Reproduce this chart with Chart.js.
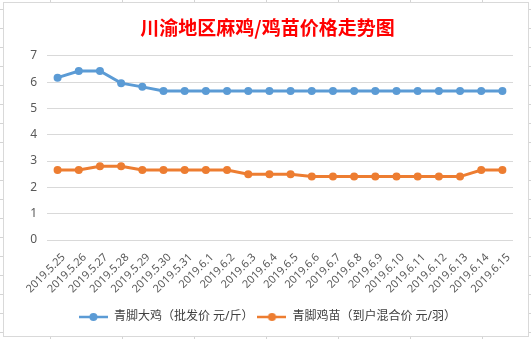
<!DOCTYPE html>
<html>
<head>
<meta charset="utf-8">
<script src="https://cdn.jsdelivr.net/npm/chart.js@4.4.1/dist/chart.umd.min.js"></script>
<style>
  html, body { margin: 0; padding: 0; }
  body {
    width: 531px; height: 339px; position: relative; overflow: hidden;
    background-color: #fff;
    background-image: linear-gradient(to right, #d4d4d4 1px, transparent 1px),
                      linear-gradient(to bottom, #d4d4d4 1px, transparent 1px);
    background-size: 72px 19px;
    background-position: 50px 9px;
  }
  #frame {
    position: absolute; left: 3px; top: 2px; width: 526px; height: 335px;
    box-sizing: border-box; border: 1px solid #d9d9d9; background: #fff;
  }
  #wrap { position: absolute; left: 0; top: 0; width: 531px; height: 339px; }
</style>
</head>
<body>
<div id="frame"></div>
<div id="wrap"><canvas id="myChart"></canvas></div>
<script>
const labels = [
  "2019.5.25", "2019.5.26", "2019.5.27", "2019.5.28", "2019.5.29", "2019.5.30", "2019.5.31",
  "2019.6.1", "2019.6.2", "2019.6.3", "2019.6.4", "2019.6.5", "2019.6.6", "2019.6.7",
  "2019.6.8", "2019.6.9", "2019.6.10", "2019.6.11", "2019.6.12", "2019.6.13", "2019.6.14", "2019.6.15"
];
const bigChicken = [6.17, 6.42, 6.42, 5.96, 5.82, 5.66, 5.66, 5.66, 5.66, 5.66, 5.66,
  5.66, 5.66, 5.66, 5.66, 5.66, 5.66, 5.66, 5.66, 5.66, 5.66, 5.66];
const chicks = [2.66, 2.66, 2.8, 2.8, 2.66, 2.66, 2.66, 2.66, 2.66, 2.5, 2.5,
  2.5, 2.41, 2.41, 2.41, 2.41, 2.41, 2.41, 2.41, 2.41, 2.66, 2.66];
const seriesNames = ["青脚大鸡（批发价 元/斤）", "青脚鸡苗（到户混合价 元/羽）"];
const colors = ["#5b9bd5", "#ed7d31"];
const yTicks = [0, 1, 2, 3, 4, 5, 6, 7];

// little "line with dot" icon like the excel legend
function legendIcon(color) {
  const c = document.createElement("canvas");
  c.width = 29;
  c.height = 10;
  const ctx = c.getContext("2d");
  ctx.strokeStyle = color;
  ctx.lineWidth = 2.5;
  ctx.beginPath();
  ctx.moveTo(0, 5);
  ctx.lineTo(29, 5);
  ctx.stroke();
  ctx.fillStyle = color;
  ctx.beginPath();
  ctx.arc(14.5, 5, 4, 0, Math.PI * 2);
  ctx.fill();
  return c;
}

const font = "'Noto Sans', 'Noto Sans CJK SC', sans-serif";

new Chart(document.getElementById("myChart"), {
  type: "line",
  data: {
    labels: labels,
    datasets: [
      {
        label: seriesNames[0],
        data: bigChicken,
        borderColor: colors[0],
        backgroundColor: colors[0],
        borderWidth: 3,
        pointRadius: 4,
        pointHoverRadius: 4,
        pointBorderWidth: 0,
        tension: 0,
      },
      {
        label: seriesNames[1],
        data: chicks,
        borderColor: colors[1],
        backgroundColor: colors[1],
        borderWidth: 3,
        pointRadius: 4,
        pointHoverRadius: 4,
        pointBorderWidth: 0,
        tension: 0,
      },
    ],
  },
  options: {
    responsive: true,
    maintainAspectRatio: false,
    animation: false,
    layout: { padding: { left: 22, right: 18, top: 0, bottom: 6 } },
    plugins: {
      title: {
        display: true,
        text: "川渝地区麻鸡/鸡苗价格走势图",
        color: "#ff0000",
        font: { family: "'Noto Sans CJK SC', sans-serif", size: 19, weight: "bold" },
        padding: { top: 16, bottom: 17 },
      },
      legend: {
        position: "bottom",
        labels: {
          usePointStyle: true,
          pointStyleWidth: 29,
          color: "#404040",
          font: { family: font, size: 12 },
          padding: 4,
          generateLabels: (chart) =>
            chart.data.datasets.map((ds, i) => ({
              text: ds.label,
              fontColor: "#404040",
              pointStyle: legendIcon(colors[i]),
              lineWidth: 0,
              strokeStyle: "transparent",
              fillStyle: colors[i],
              datasetIndex: i,
            })),
        },
      },
      tooltip: { enabled: false },
    },
    scales: {
      x: {
        offset: true,
        afterFit: (scale) => { scale.height = 67; },
        grid: { display: false },
        border: { display: false },
        ticks: {
          color: "#595959",
          font: { family: font, size: 11 },
          minRotation: 45,
          maxRotation: 45,
          autoSkip: false,
          padding: 3,
          labelOffset: 6,
        },
      },
      y: {
        min: 0,
        max: 7,
        afterFit: (scale) => { scale.width = 25; },
        afterBuildTicks: (scale) => { scale.ticks = yTicks.map((v) => ({ value: v })); },
        grid: { color: "#d9d9d9", drawTicks: false },
        border: { display: false },
        ticks: {
          color: "#595959",
          font: { family: font, size: 12 },
          padding: 10,
        },
      },
    },
  },
});
</script>
</body>
</html>
